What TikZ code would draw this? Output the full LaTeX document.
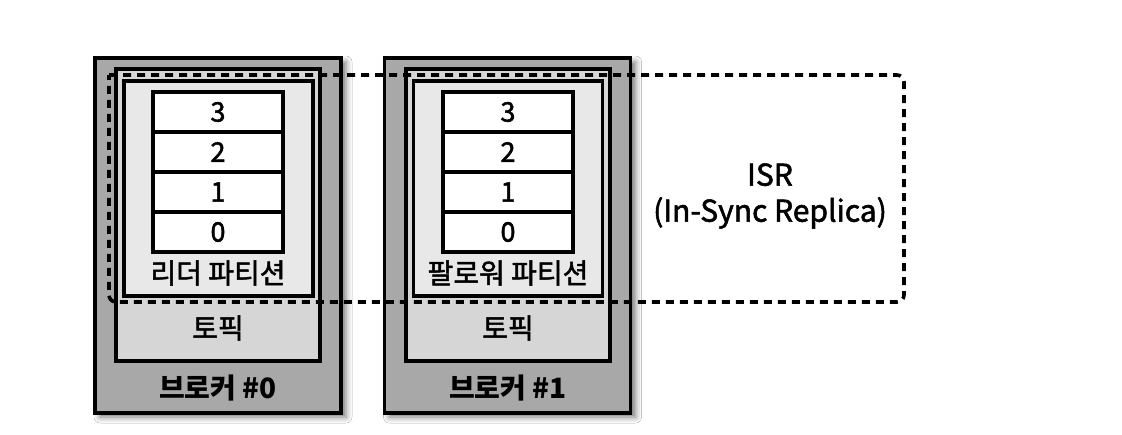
\documentclass[tikz,border=0pt]{standalone}
\usepackage{fontspec}
\setmainfont{Noto Sans CJK KR}
\newfontfamily\medfont{Noto Sans CJK KR}[FakeBold=1.8]
\usetikzlibrary{shadows.blur}
\definecolor{brokergray}{HTML}{A8A8A8}
\definecolor{topicgray}{HTML}{D6D6D6}
\definecolor{partgray}{HTML}{E8E8E8}
\tikzset{
  box/.style={draw=black, line width=3.4pt, rectangle, inner sep=0pt, outer sep=0pt},
  brokerbox/.style={box, fill=brokergray, minimum width=246pt, minimum height=355pt,
    blur shadow={shadow xshift=5pt, shadow yshift=-4pt, shadow blur radius=6pt, shadow opacity=55}},
  topicbox/.style={box, fill=topicgray, minimum width=204pt, minimum height=292pt},
  partbox/.style={box, fill=partgray, minimum width=189pt, minimum height=215pt},
  cell/.style={box, fill=white, minimum width=130pt, minimum height=40pt, font=\medfont\fontsize{27}{30}\selectfont},
  lbl/.style={inner sep=0pt, font=\medfont\fontsize{28}{34}\selectfont},
  blbl/.style={inner sep=0pt, font=\fontsize{28}{34}\selectfont\bfseries},
  isr/.style={draw=black, line width=3.6pt, dash pattern=on 8pt off 6pt},
}
\begin{document}
\begin{tikzpicture}[x=1pt,y=-1pt]
\useasboundingbox (0,0) rectangle (1122,434);
\fill[white] (0,0) rectangle (1122,434);
% broker 0
\node[brokerbox] (b0) at (218,235.5) {};
\node[topicbox] (t0) at (218,215) {};
\node[partbox] (p0) at (218.5,188.5) {};
\node[cell] (c03) at (218,112) {3};
\node[cell] (c02) at (218,152) {2};
\node[cell] (c01) at (218,192) {1};
\node[cell] (c00) at (218,232) {0};
\node[lbl] (pl0) at (218,273) {리더 파티션};
\node[lbl] (tl0) at (218,328) {토픽};
\node[blbl] (bl0) at (218,388) {브로커 \#0};
% broker 1
\node[brokerbox] (b1) at (507.5,235.5) {};
\node[topicbox] (t1) at (508,215) {};
\node[partbox] (p1) at (508,188.5) {};
\node[cell] (c13) at (508,112) {3};
\node[cell] (c12) at (508,152) {2};
\node[cell] (c11) at (508,192) {1};
\node[cell] (c10) at (508,232) {0};
\node[lbl] (pl1) at (508,273) {팔로워 파티션};
\node[lbl] (tl1) at (508,328) {토픽};
\node[blbl] (bl1) at (508,388) {브로커 \#1};
% ISR
\coordinate (i1) at (109,75);
\coordinate (i2) at (904,75);
\coordinate (i3) at (904,302);
\coordinate (i4) at (109,302);
\draw[isr] (i1) [rounded corners=7pt] -- (i2) -- (i3) -- (i4) [sharp corners] -- cycle;
\node[lbl, align=center, font=\medfont\fontsize{30}{36}\selectfont] (isrl) at (770,196) {ISR\\(In-Sync Replica)};
\end{tikzpicture}
\end{document}
